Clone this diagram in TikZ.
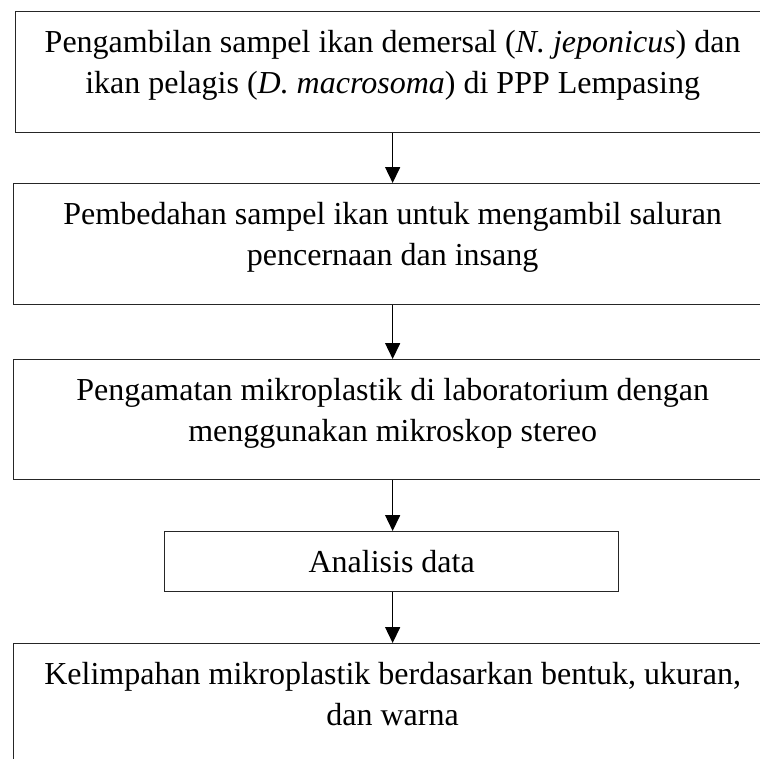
\documentclass[tikz,border=0pt]{standalone}
\usepackage{fontspec}
\setmainfont{Liberation Serif}
\usetikzlibrary{arrows.meta}
\newcommand\boxtxt[3]{\parbox[c][#2][t]{#1}{\centering\fontsize{32}{41}\selectfont\rule{0pt}{41pt}#3\par}}
\begin{document}
\begin{tikzpicture}[x=1pt,y=1pt,
  box/.style={draw=black!85, line width=1.3pt, inner sep=0pt, anchor=north west},
  flow/.style={line width=1.5pt, -{Triangle[width=15pt,length=16pt]}}]
\useasboundingbox[fill=white] (0,0) rectangle (760,-758);
\node[box] (b1) at (15,-11) {\boxtxt{754pt}{121pt}{Pengambilan sampel ikan demersal (\textit{N. jeponicus}) dan\\ikan pelagis (\textit{D. macrosoma}) di PPP Lempasing}};
\node[box] (b2) at (13,-183) {\boxtxt{758pt}{121pt}{Pembedahan sampel ikan untuk mengambil saluran\\pencernaan dan insang}};
\node[box] (b3) at (13,-359) {\boxtxt{758pt}{120pt}{Pengamatan mikroplastik di laboratorium dengan\\menggunakan mikroskop stereo}};
\node[box, minimum width=454pt, minimum height=60pt, font=\fontsize{32}{41}\selectfont] (b4) at (164,-531) {Analisis data};
\node[box] (b5) at (13,-643) {\boxtxt{758pt}{121pt}{Kelimpahan mikroplastik berdasarkan bentuk, ukuran,\\dan warna}};
\draw[flow] (b1.south) -- (b2.north);
\draw[flow] (b2.south) -- (b3.north);
\draw[flow] (b3.south) -- (b3.south |- b4.north);
\draw[flow] (b3.south |- b4.south) -- (b3.south |- b5.north);
\end{tikzpicture}
\end{document}
